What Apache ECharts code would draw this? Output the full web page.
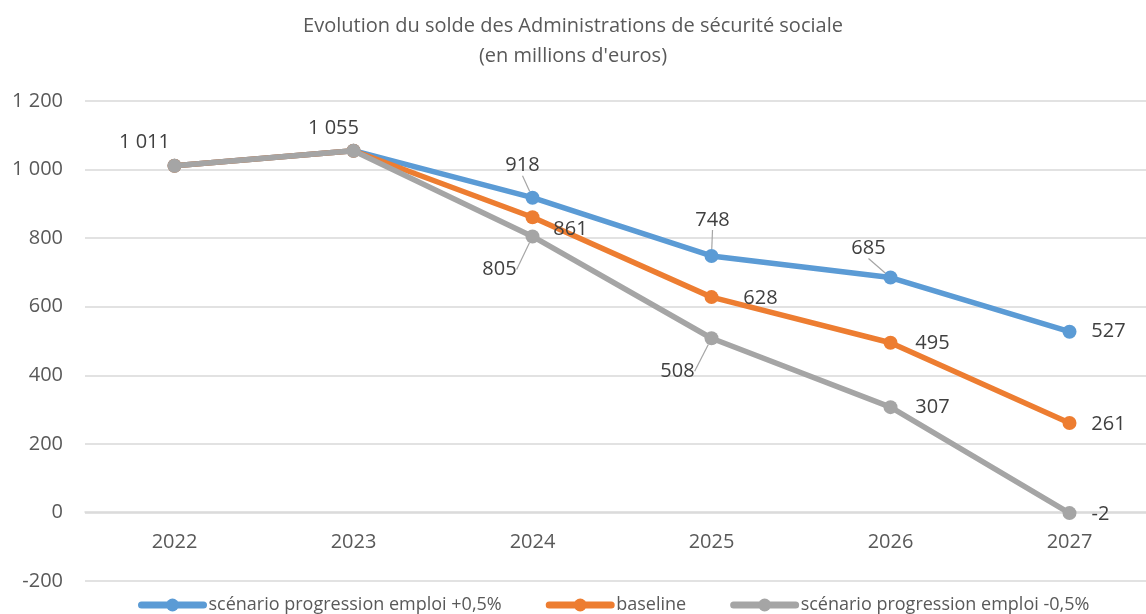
<!DOCTYPE html>
<html>
<head>
<meta charset="utf-8">
<script src="https://cdn.jsdelivr.net/npm/echarts@6/dist/echarts.min.js"></script>
<style>
  html, body { margin: 0; padding: 0; background: #fff; }
  #chart { width: 1146px; height: 614px; }
</style>
</head>
<body>
<div id="chart"></div>
<script>
// data
var years = ['2022', '2023', '2024', '2025', '2026', '2027'];
var seriesNames = ['scénario progression emploi +0,5%', 'baseline', 'scénario progression emploi -0,5%'];
var plusValues = [1011, 1055, 918, 748, 685, 527];
var baseValues = [1011, 1055, 861, 628, 495, 261];
var minusValues = [1011, 1055, 805, 508, 307, -2];

// label offsets from the point (null = no label), and which get a leader line
var plusOffsets = [null, null, [-10, -32], [1, -36], [-22, -29], [39, 0]];
var baseOffsets = [null, null, [38, 12], [49, 1], [42, 1], [39, 1]];
var minusOffsets = [[-30, -24], [-20, -22], [-33, 33], [-34, 33], [42, 0], [31, 1]];
var plusLeaders = [false, false, true, true, true, false];
var baseLeaders = [false, false, false, false, false, false];
var minusLeaders = [false, false, true, true, false, false];

var colors = ['#5B9BD5', '#ED7D31', '#A5A5A5'];
var textColor = '#595959';
var font = '"Open Sans", Lato, sans-serif';

function fmt(v) {
  var s = String(Math.abs(v)).replace(/\B(?=(\d{3})+(?!\d))/g, ' ');
  return (v < 0 ? '-' : '') + s;
}

function buildData(values, offsets, leaders) {
  return values.map(function (v, i) {
    return {
      value: v,
      label: { show: offsets[i] !== null },
      labelLine: { show: leaders[i] }
    };
  });
}

function makeSeries(idx, values, offsets, leaders) {
  return {
    name: seriesNames[idx],
    type: 'line',
    data: buildData(values, offsets, leaders),
    symbol: 'circle',
    symbolSize: 14,
    lineStyle: { width: 5.5, color: colors[idx] },
    itemStyle: { color: colors[idx] },
    label: {
      position: 'inside',
      formatter: function (p) { return fmt(p.value); },
      fontFamily: font,
      fontSize: 20,
      color: '#404040'
    },
    labelLine: {
      lineStyle: { color: '#A5A5A5', width: 1.2 }
    },
    labelLayout: function (p) {
      var o = offsets[p.dataIndex];
      if (!o) return {};
      return { dx: o[0], dy: o[1] };
    },
    z: 2 + idx
  };
}

var chart = echarts.init(document.getElementById('chart'));
chart.setOption({
  animation: false,
  color: colors,
  title: {
    text: 'Evolution du solde des Administrations de sécurité sociale\n(en millions d\'euros)',
    left: 'center',
    top: 6,
    textStyle: {
      fontFamily: font,
      fontSize: 20,
      fontWeight: 'normal',
      color: textColor,
      lineHeight: 30
    }
  },
  legend: {
    bottom: -5,
    left: 133,
    itemWidth: 62,
    itemHeight: 16,
    itemGap: 44,
    lineStyle: { width: 7, cap: 'round' },
    textStyle: { fontFamily: font, fontSize: 18, color: textColor },
    data: seriesNames
  },
  grid: { left: 85, right: -13, top: 101, bottom: 33, containLabel: false, outerBoundsMode: 'none' },
  xAxis: {
    type: 'category',
    data: years,
    boundaryGap: true,
    offset: -69,
    axisLine: { show: true, onZero: false, lineStyle: { color: '#D9D9D9', width: 1.5 } },
    axisTick: { show: false },
    axisLabel: { fontFamily: font, fontSize: 20, color: textColor, margin: 20 }
  },
  yAxis: {
    type: 'value',
    min: -200,
    max: 1200,
    interval: 200,
    axisLine: { show: false },
    axisTick: { show: false },
    splitLine: { lineStyle: { color: '#D9D9D9', width: 1.5 } },
    axisLabel: {
      fontFamily: font,
      fontSize: 20,
      color: textColor,
      margin: 22,
      formatter: fmt
    }
  },
  series: [
    makeSeries(0, plusValues, plusOffsets, plusLeaders),
    makeSeries(1, baseValues, baseOffsets, baseLeaders),
    makeSeries(2, minusValues, minusOffsets, minusLeaders)
  ]
});
</script>
</body>
</html>
